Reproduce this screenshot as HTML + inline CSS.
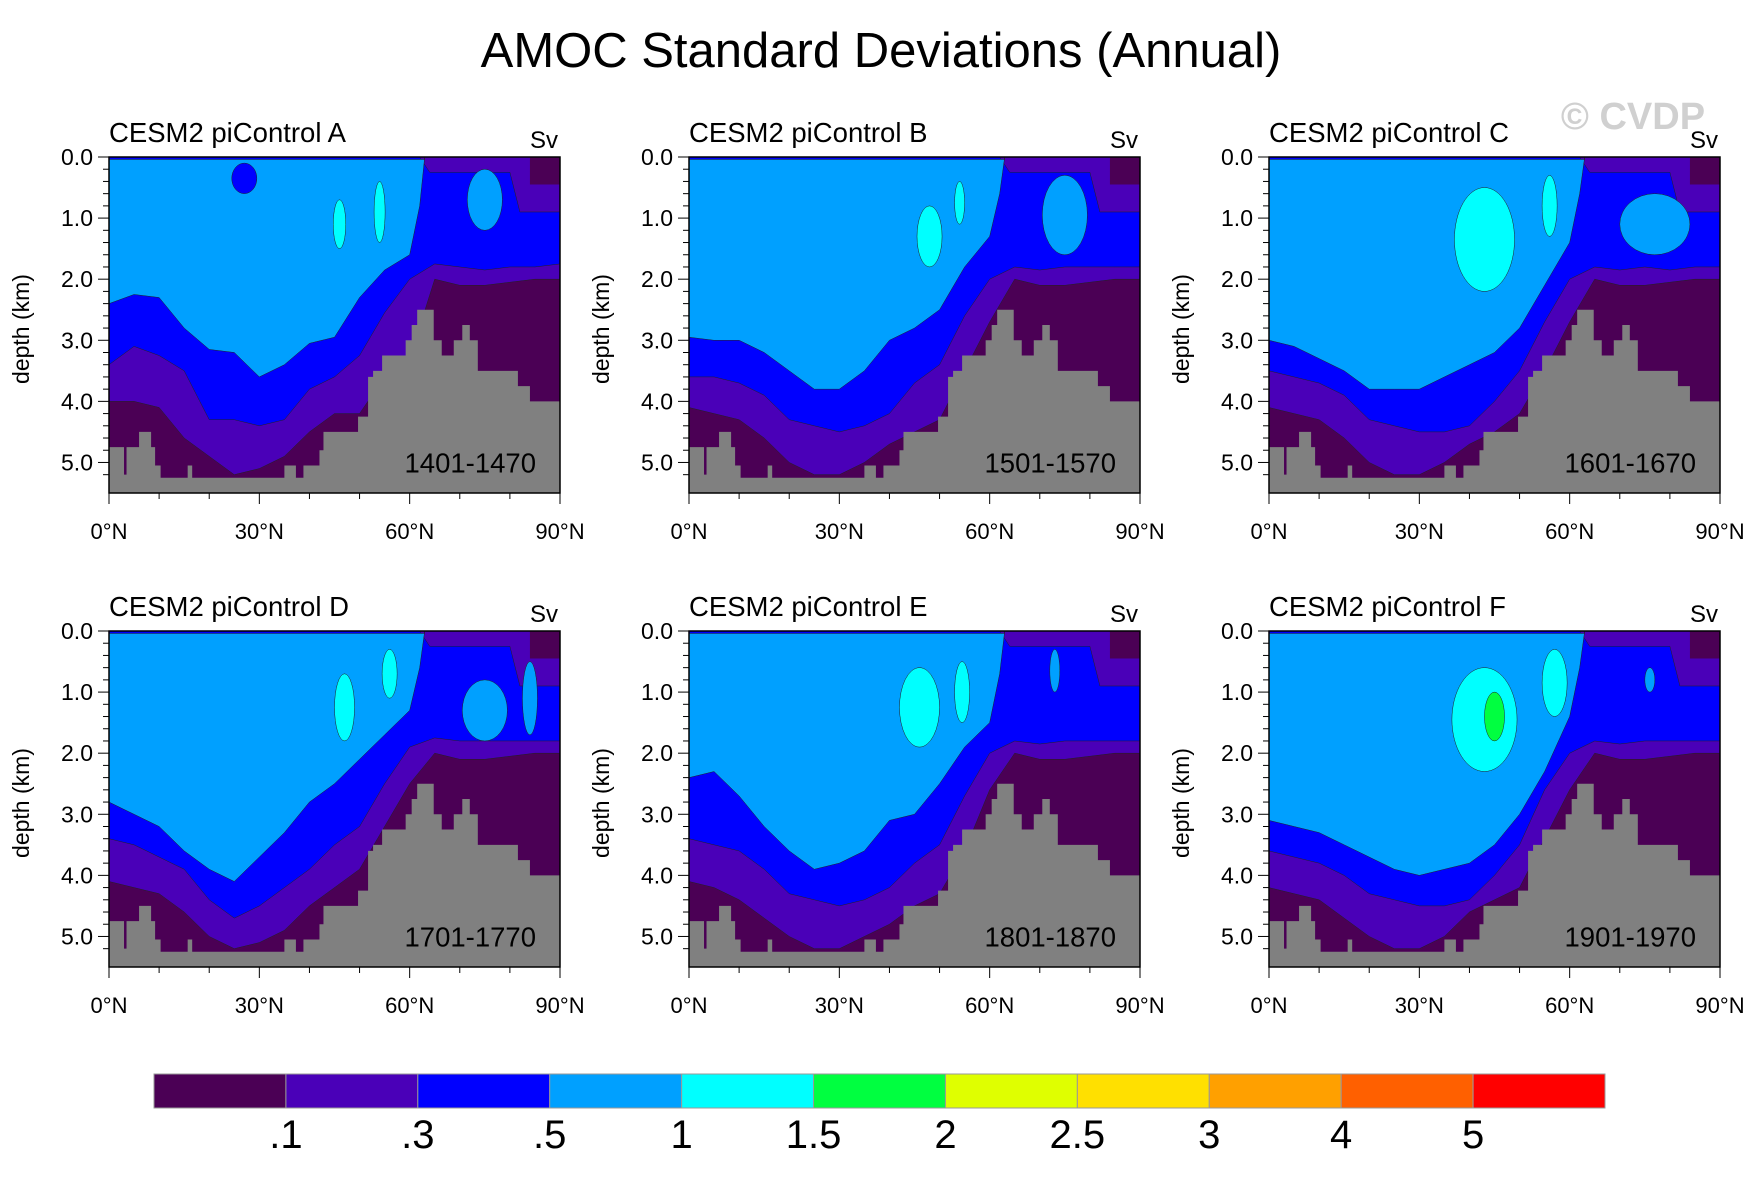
<!DOCTYPE html>
<html><head><meta charset="utf-8"><style>
html,body{margin:0;padding:0;background:#fff}
svg{display:block;font-family:"Liberation Sans",sans-serif}
</style></head><body>
<svg id="chart" width="1760" height="1179" viewBox="0 0 1760 1179" xmlns="http://www.w3.org/2000/svg">
<text x="881" y="67" font-size="49" text-anchor="middle">AMOC Standard Deviations (Annual)</text>
<text x="1633" y="129" font-size="38" font-weight="bold" fill="#d0d0d0" text-anchor="middle">© CVDP</text>
<g id="panels"></g>
<g id="cbar"></g>
</svg>
<script>
// ---- data ----
const panelNames = ["CESM2 piControl A","CESM2 piControl B","CESM2 piControl C","CESM2 piControl D","CESM2 piControl E","CESM2 piControl F"];
const periods = ["1401-1470","1501-1570","1601-1670","1701-1770","1801-1870","1901-1970"];
const latS = [0,5,10,15,20,25,30,35,40,45,50,55,60,62,63];
const d5A = [2.4,2.25,2.3,2.8,3.15,3.2,3.6,3.4,3.05,2.95,2.3,1.85,1.6,0.8,0];
const d5B = [2.95,3.0,3.0,3.2,3.5,3.8,3.8,3.5,3.0,2.8,2.5,1.8,1.3,0.6,0];
const d5C = [3.0,3.1,3.3,3.5,3.8,3.8,3.8,3.6,3.4,3.2,2.8,2.1,1.4,0.6,0];
const d5D = [2.8,3.0,3.2,3.6,3.9,4.1,3.7,3.3,2.8,2.5,2.1,1.7,1.3,0.6,0];
const d5E = [2.4,2.3,2.7,3.2,3.6,3.9,3.8,3.6,3.1,3.0,2.5,1.9,1.5,0.7,0];
const d5F = [3.1,3.2,3.3,3.5,3.7,3.9,4.0,3.9,3.8,3.5,3.0,2.3,1.4,0.6,0];
const latF = [0,5,10,15,20,25,30,35,40,45,50,55,60,65,70,75,80,85,90];
const d3A = [3.4,3.1,3.25,3.5,4.3,4.3,4.4,4.3,3.8,3.6,3.25,2.55,2.0,1.75,1.8,1.85,1.8,1.8,1.75];
const d3B = [3.6,3.6,3.7,3.9,4.3,4.4,4.5,4.4,4.2,3.7,3.4,2.6,2.0,1.8,1.85,1.8,1.8,1.8,1.8];
const d3C = [3.5,3.6,3.7,3.9,4.3,4.4,4.5,4.5,4.4,4.0,3.5,2.7,2.0,1.8,1.85,1.8,1.85,1.8,1.8];
const d3D = [3.4,3.5,3.7,3.9,4.4,4.7,4.5,4.2,3.9,3.5,3.2,2.5,1.9,1.75,1.8,1.8,1.8,1.8,1.8];
const d3E = [3.4,3.5,3.6,3.9,4.3,4.4,4.5,4.4,4.2,3.8,3.5,2.7,2.0,1.8,1.85,1.8,1.8,1.8,1.8];
const d3F = [3.6,3.7,3.8,4.0,4.3,4.4,4.5,4.5,4.4,4.0,3.5,2.6,2.0,1.8,1.85,1.8,1.8,1.8,1.8];
const d1A = [4.0,4.0,4.1,4.6,4.9,5.2,5.1,4.9,4.5,4.2,4.2,3.6,3.3,2.0,2.1,2.1,2.05,2.0,2.0];
const d1B = [4.1,4.2,4.3,4.6,5.0,5.2,5.2,5.0,4.7,4.5,4.3,3.5,2.7,2.0,2.1,2.1,2.05,2.0,2.0];
const d1C = [4.1,4.2,4.3,4.6,5.0,5.2,5.2,5.0,4.7,4.5,4.2,3.5,2.7,2.0,2.1,2.1,2.05,2.0,2.0];
const d1D = [4.1,4.2,4.3,4.6,5.0,5.2,5.1,4.9,4.5,4.2,3.9,3.2,2.5,2.0,2.1,2.1,2.05,2.0,2.0];
const d1E = [4.1,4.2,4.4,4.7,5.0,5.2,5.2,5.0,4.8,4.5,4.3,3.6,2.6,2.0,2.1,2.1,2.05,2.0,2.0];
const d1F = [4.2,4.3,4.4,4.7,5.0,5.2,5.2,5.0,4.6,4.4,4.2,3.4,2.6,2.0,2.1,2.1,2.05,2.0,2.0];
// blobs: [lat, width(deg), depthTop, depthBottom]
const cyanA = [[46,2.5,0.7,1.5],[54,2.2,0.4,1.4]];
const cyanB = [[48,5,0.8,1.8],[54,2,0.4,1.1]];
const cyanC = [[43,12,0.5,2.2],[56,3,0.3,1.3]];
const cyanD = [[47,4,0.7,1.8],[56,3,0.3,1.1]];
const cyanE = [[46,8,0.6,1.9],[54.5,3,0.5,1.5]];
const cyanF = [[43,13,0.6,2.3],[57,5,0.3,1.4]];
const greenF = [[45,4,1.0,1.8]];
const lbNorthA = [[75,7,0.2,1.2]];
const lbNorthB = [[75,9,0.3,1.6]];
const lbNorthC = [[77,14,0.6,1.6]];
const lbNorthD = [[75,9,0.8,1.8],[84,3,0.5,1.7]];
const lbNorthE = [[73,2,0.3,1.0]];
const lbNorthF = [[76,2,0.6,1.0]];
const topoLat = [0,3,3.5,6,8.4,9.2,10.3,15.7,16.6,35,37.3,38.8,42,42.8,49.7,51.7,52.7,54.5,59.2,60.4,61.5,64.8,66.4,68.8,70.5,72,73.6,81.6,84,90];
const topoDepth = [4.75,5.2,4.75,4.5,4.75,5.05,5.25,5.05,5.25,5.05,5.25,5.05,4.8,4.5,4.25,3.6,3.5,3.25,3.0,2.75,2.5,3.0,3.25,3.0,2.75,3.0,3.5,3.75,4.0,4.0];
const cbColors = ["#4b0055","#4a00b8","#0000ff","#00a0ff","#00ffff","#00ff40","#dfff00","#ffe000","#ffa000","#ff6000","#ff0000"];
const cbLabels = [".1",".3",".5","1","1.5","2","2.5","3","4","5"];
const xTicks = [0,30,60,90];
const yTicks = [0,1,2,3,4,5];

const d5 = [d5A,d5B,d5C,d5D,d5E,d5F], d3=[d3A,d3B,d3C,d3D,d3E,d3F], d1=[d1A,d1B,d1C,d1D,d1E,d1F];
const cyans=[cyanA,cyanB,cyanC,cyanD,cyanE,cyanF], greens=[[],[],[],[],[],greenF], lbN=[lbNorthA,lbNorthB,lbNorthC,lbNorthD,lbNorthE,lbNorthF];
const NS="http://www.w3.org/2000/svg";
function mk(tag,attrs,parent){const e=document.createElementNS(NS,tag);for(const k in attrs)e.setAttribute(k,attrs[k]);parent.appendChild(e);return e;}
const colX=[109,689,1269], rowY=[157,631], W=451, H=336;
const panelsG=document.getElementById('panels');
for(let p=0;p<6;p++){
  const ox=colX[p%3], oy=rowY[Math.floor(p/3)];
  const X=lat=>ox+lat/90*W, Y=d=>oy+d/5.5*H;
  const g=mk('g',{},panelsG);
  
  
  const clipId='clip'+p;
  const cp=mk('clipPath',{id:clipId},g); mk('rect',{x:ox,y:oy,width:W,height:H},cp);
  const pg=mk('g',{'clip-path':'url(#'+clipId+')'},g);
  const bg=mk('rect',{x:ox,y:oy,width:W,height:H,fill:cbColors[0]},pg);
  
  
  let pts=[[X(0),Y(0)],[X(90),Y(0)]];
  for(let i=latF.length-1;i>=0;i--)pts.push([X(latF[i]),Y(d1[p][i])]);
  const pu=mk('polygon',{points:pts.map(q=>q.join(',')).join(' '),fill:cbColors[1],stroke:'#222','stroke-width':0.5},pg);
  
  
  pts=[[X(0),Y(0)],[X(62),Y(0)],[X(64),Y(0.25)],[X(80),Y(0.25)],[X(82),Y(0.9)],[X(90),Y(0.9)]];
  for(let i=latF.length-1;i>=0;i--)pts.push([X(latF[i]),Y(d3[p][i])]);
  const bl=mk('polygon',{points:pts.map(q=>q.join(',')).join(' '),fill:cbColors[2],stroke:'#222','stroke-width':0.5},pg);
  
  
  pts=[[X(0),Y(0.04)],[X(latS[latS.length-1]),Y(0.04)]];
  for(let i=latS.length-1;i>=0;i--)pts.push([X(latS[i]),Y(d5[p][i])]);
  const lb=mk('polygon',{points:pts.map(q=>q.join(',')).join(' '),fill:cbColors[3],stroke:'#222','stroke-width':0.5},pg);
  
  
  const blob=(b,col,name)=>{const e=mk('ellipse',{cx:X(b[0]),cy:Y((b[2]+b[3])/2),rx:b[1]/90*W/2,ry:(b[3]-b[2])/5.5*H/2,fill:col,stroke:'#222','stroke-width':0.5},pg);
    
    };
  lbN[p].forEach(b=>blob(b,cbColors[3],'north-patch-0.5-1'));
  cyans[p].forEach(b=>blob(b,cbColors[4],'patch-1-1.5'));
  greens[p].forEach(b=>blob(b,cbColors[5],'patch-1.5-2'));
  if(p===0){blob([27,5,0.1,0.6],cbColors[2],'patch-0.3-0.5');}
  const cb=mk('rect',{x:X(84),y:Y(0),width:X(90)-X(84),height:Y(0.45)-Y(0),fill:cbColors[0]},pg);
  
  
  pts=[[X(0),Y(5.5)]];
  for(let i=0;i<topoLat.length;i++){const next=i+1<topoLat.length?topoLat[i+1]:90;pts.push([X(topoLat[i]),Y(topoDepth[i])],[X(next),Y(topoDepth[i])]);}
  pts.push([X(90),Y(5.5)]);
  const tp=mk('polygon',{points:pts.map(q=>q.join(',')).join(' '),fill:'#808080'},pg);
  
  
  mk('rect',{x:ox,y:oy,width:W,height:H,fill:'none',stroke:'#000','stroke-width':1.5},g);
  for(let d=0;d<=5.4;d+=0.2){const maj=Math.abs(d-Math.round(d))<0.01;mk('line',{x1:ox,x2:ox-(maj?11:6),y1:Y(d),y2:Y(d),stroke:'#000','stroke-width':1},g);}
  yTicks.forEach(t=>{const e=mk('text',{x:ox-16,y:Y(t)+8,'font-size':23,'text-anchor':'end'},g);e.textContent=t.toFixed(1);
    
    });
  for(let l=0;l<=90;l+=10){const maj=l%30===0;mk('line',{x1:X(l),x2:X(l),y1:oy+H,y2:oy+H+(maj?11:6),stroke:'#000','stroke-width':1},g);}
  xTicks.forEach(t=>{const e=mk('text',{x:X(t),y:oy+H+46,'font-size':22,'text-anchor':'middle'},g);e.textContent=t+'°N';
    
    });
  const yl=mk('text',{x:0,y:0,'font-size':23,'text-anchor':'middle',transform:`translate(${ox-80},${oy+H/2+4}) rotate(-90)`},g);yl.textContent='depth (km)';
  
  
  const tt=mk('text',{x:ox,y:oy-15,'font-size':27.5},g);tt.textContent=panelNames[p];
  
  
  const sv=mk('text',{x:ox+W-2,y:oy-9,'font-size':24,'text-anchor':'end'},g);sv.textContent='Sv';
  
  
  const pr=mk('text',{x:ox+W-24,y:Y(5.0)+10,'font-size':27.5,'text-anchor':'end'},g);pr.textContent=periods[p];
  
  
}
const cbG=document.getElementById('cbar');
const cbx=154, cby=1074, cbw=1451/11, cbh=34;
cbColors.forEach((c,i)=>{const r=mk('rect',{x:cbx+i*cbw,y:cby,width:cbw,height:cbh,fill:c,stroke:'#999','stroke-width':1},cbG);
  
  });
cbLabels.forEach((l,i)=>{const t=mk('text',{x:cbx+(i+1)*cbw,y:cby+cbh+40,'font-size':40,'text-anchor':'middle'},cbG);t.textContent=l;
  
  });
</script>
</body></html>
